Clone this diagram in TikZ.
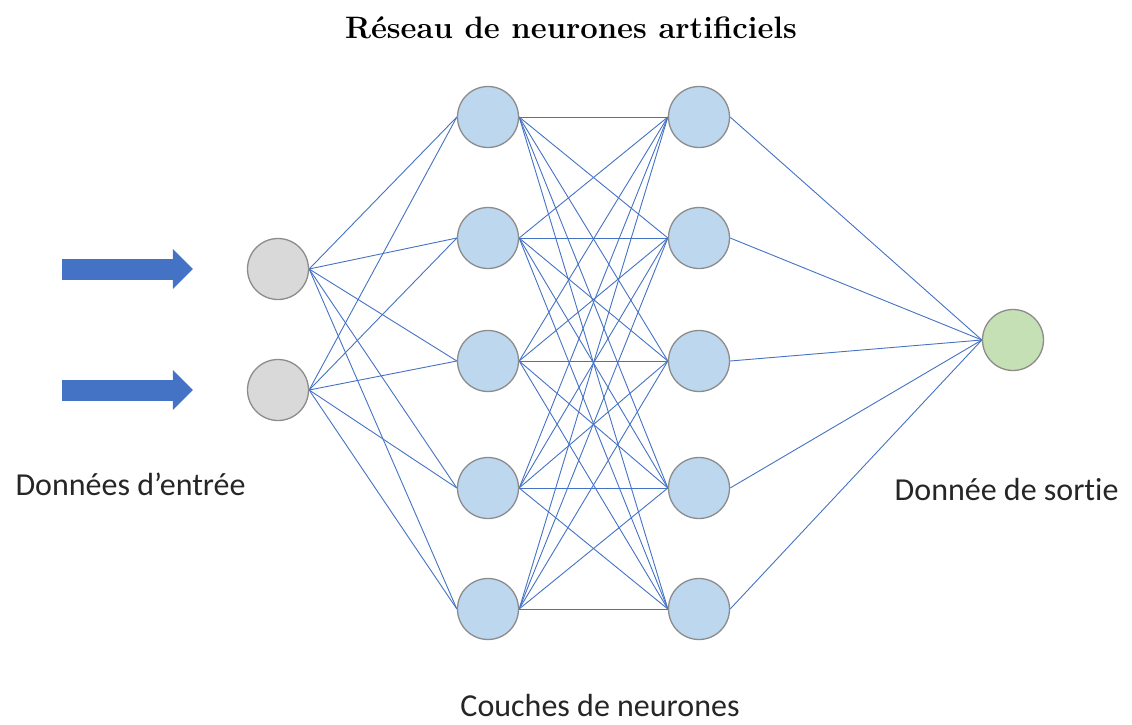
\documentclass[tikz,border=0pt]{standalone}
\usepackage{fontspec}
\setmainfont{Carlito}[Ligatures=NoCommon]
\newfontfamily\titlefont{Latin Modern Roman}
\usepackage{tikz}
\usetikzlibrary{arrows.meta}
\usetikzlibrary{backgrounds}
\definecolor{linkblue}{HTML}{4472C4}
\definecolor{cellblue}{HTML}{BDD7EE}
\definecolor{cellgray}{HTML}{D9D9D9}
\definecolor{cellgreen}{HTML}{C5E0B4}
\definecolor{rimgray}{HTML}{8C8C8C}
\tikzset{
    cell/.style={
        circle,
        draw=rimgray,
        line width=1.3pt,
        minimum size=61pt,
        inner sep=0pt,
        fill=#1
    },
    cell/.default=cellblue,
    link/.style={
        draw=linkblue,
        line width=0.9pt
    },
    feed/.style={
        draw=linkblue,
        line width=21pt,
        -{Triangle[length=20pt,width=39pt]}
    },
    caption/.style={
        font=\fontsize{32}{38}\selectfont,
        text=black!85
    }
}
\newcommand{\linkall}[2] {
	\foreach \j in {1,...,5} {
		\draw[link] (#1.east) -- (#2\j.west);
	}
}

\begin{document}
\begin{tikzpicture}[x=1pt,y=-1pt]
		\useasboundingbox (0,0) rectangle (1132,725);

		% title
		\node[anchor=base] (title) at (571,39) {\titlefont\bfseries\fontsize{31}{36}\selectfont Réseau de neurones artificiels};

		% input side
		\node[cell=cellgray] (in1) at (278,269) {};
		\node[cell=cellgray] (in2) at (278,390) {};
		\draw[feed] (in1.west) ++(-185,0) -- ++(131,0);
		\draw[feed] (in2.west) ++(-185,0) -- ++(131,0);
		\node[caption, anchor=base west] (intext) at (12,495) {Données d’entrée};

		% first layer
		\node[cell] (ha1) at (488,117) {};
		\node[cell] (ha2) at (488,238) {};
		\node[cell] (ha3) at (488,361) {};
		\node[cell] (ha4) at (488,488) {};
		\node[cell] (ha5) at (488,609) {};

		% second layer
		\node[cell] (hb1) at (699,117) {};
		\node[cell] (hb2) at (699,238) {};
		\node[cell] (hb3) at (699,361) {};
		\node[cell] (hb4) at (699,488) {};
		\node[cell] (hb5) at (699,609) {};
		\node[caption, anchor=base] (layertext) at (600,716) {Couches de neurones};

		% output side
		\node[cell=cellgreen] (out) at (1013,340) {};
		\node[caption, anchor=base east] (outtext) at (1122,500) {Donnée de sortie};

		% links
		\begin{scope}[on background layer]
			\linkall{in1}{ha}
			\linkall{in2}{ha}
			\linkall{ha1}{hb}
			\linkall{ha2}{hb}
			\linkall{ha3}{hb}
			\linkall{ha4}{hb}
			\linkall{ha5}{hb}
			\foreach \j in {1,...,5} {
				\draw[link] (hb\j.east) -- (out.west);
			}
		\end{scope}

	\end{tikzpicture}
\end{document}
